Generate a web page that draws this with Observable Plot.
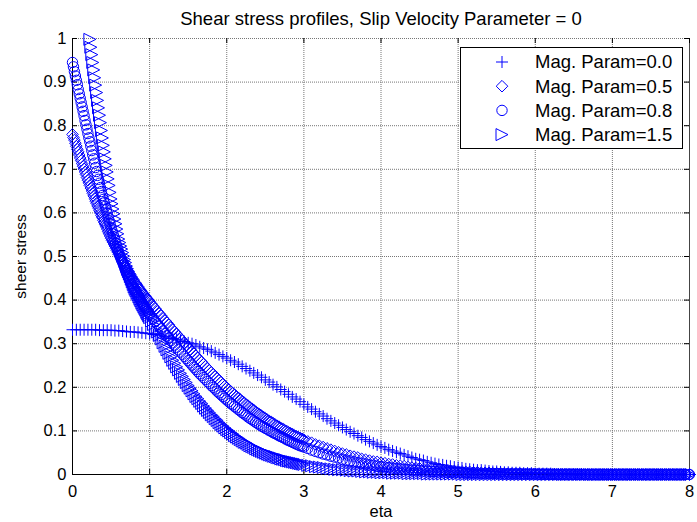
<!DOCTYPE html>
<html><head><meta charset="utf-8">
<script src="https://cdn.jsdelivr.net/npm/d3@7"></script>
<script src="https://cdn.jsdelivr.net/npm/@observablehq/plot@0.6"></script>
<style>
body{margin:0;background:#fff;}
#chart{position:relative;width:697px;height:522px;}
</style>
</head><body><div id="chart"></div>
<script>
const TITLE = "Shear stress profiles, Slip Velocity Parameter = 0";
const X_LABEL = "eta";
const Y_LABEL = "sheer stress";
const X_TICKS = [0,1,2,3,4,5,6,7,8];
const Y_TICKS = [0,0.1,0.2,0.3,0.4,0.5,0.6,0.7,0.8,0.9,1];
const SERIES_NAMES = ["Mag. Param=0.0","Mag. Param=0.5","Mag. Param=0.8","Mag. Param=1.5"];

// eta samples for Mag. Param = 0.0
const ETA_A = [0,0.05,0.1,0.15,0.2,0.25,0.3,0.35,0.4,0.45,0.5,0.55,0.6,0.65,0.7,0.75,0.8,0.85,0.9,0.95,1.0,
1.05,1.1,1.15,1.2,1.25,1.3,1.35,1.4,1.45,1.5,1.55,1.6,1.65,1.7,1.75,1.8,1.85,1.9,1.95,2.0,2.05,2.1,2.15,2.2,2.25,2.3,2.35,2.4,2.45,2.5,2.55,2.6,2.65,2.7,2.75,2.8,2.85,2.9,2.95,3.0,
3.05,3.1,3.15,3.2,3.25,3.3,3.35,3.4,3.45,3.5,3.55,3.6,3.65,3.7,3.75,3.8,3.85,3.9,3.95,4.0,4.05,4.1,4.15,4.2,4.25,4.3,4.35,4.4,4.45,4.5,4.55,4.6,4.65,4.7,4.75,4.8,4.85,4.9,4.95,5.0,
5.05,5.1,5.15,5.2,5.25,5.3,5.35,5.4,5.45,5.5,5.55,5.6,5.65,5.7,5.75,5.8,5.85,5.9,5.95,6.0,6.05,6.1,6.15,6.2,6.25,6.3,6.35,6.4,6.45,6.5,6.55,6.6,6.65,6.7,6.75,6.8,6.85,6.9,6.95,7.0,
7.05,7.1,7.15,7.2,7.25,7.3,7.35,7.4,7.45,7.5,7.55,7.6,7.65,7.7,7.75,7.8,7.85,7.9,7.95,8.0];

const MAG_00 = [0.332,0.332,0.332,0.332,0.332,0.332,0.332,0.331,0.331,0.331,0.331,0.330,0.330,0.329,0.328,0.327,0.327,0.326,0.325,0.324,0.323,
0.321,0.320,0.318,0.317,0.315,0.312,0.310,0.308,0.305,0.302,0.300,0.297,0.293,0.290,0.287,0.283,0.279,0.275,0.271,0.267,0.262,0.258,0.253,0.248,0.243,0.238,0.233,0.228,0.223,0.217,0.212,0.206,0.201,0.195,0.190,0.184,0.178,0.173,0.167,0.161,
0.155,0.150,0.144,0.139,0.134,0.128,0.123,0.118,0.113,0.108,0.103,0.098,0.094,0.089,0.085,0.080,0.076,0.072,0.068,0.064,0.061,0.057,0.054,0.051,0.048,0.045,0.042,0.039,0.036,0.034,0.032,0.029,0.027,0.025,0.023,0.022,0.020,0.019,0.017,0.016,
0.015,0.013,0.012,0.011,0.010,0.010,0.009,0.008,0.007,0.007,0.006,0.005,0.005,0.004,0.004,0.004,0.003,0.003,0.003,0.002,0.002,0.002,0.002,0.002,0.001,0.001,0.001,0.001,0.001,0.001,0.001,0.001,0,0,0,0,0,0,0,0,
0,0,0,0,0,0,0,0,0,0,0,0,0,0,0,0,0,0,0,0];

// eta samples for the other three series
const ETA = [0,0.0125,0.025,0.0375,0.05,0.0625,0.075,0.0875,0.1,0.1125,0.125,0.1375,0.15,0.1625,0.175,0.1875,0.2,0.2125,0.225,0.2375,0.25,0.2625,0.275,0.2875,0.3,0.3125,0.325,0.3375,0.35,0.3625,0.375,0.3875,0.4,0.4125,0.425,0.4375,0.45,0.4625,0.475,0.4875,0.5,
0.5125,0.525,0.5375,0.55,0.5625,0.575,0.5875,0.6,0.6125,0.625,0.6375,0.65,0.6625,0.675,0.6875,0.7,0.7125,0.725,0.7375,0.75,0.7625,0.775,0.7875,0.8,0.8125,0.825,0.8375,0.85,0.8625,0.875,0.8875,0.9,0.9125,0.925,0.9375,0.95,0.9625,0.975,0.9875,1.0,
1.025,1.05,1.075,1.1,1.125,1.15,1.175,1.2,1.225,1.25,1.275,1.3,1.325,1.35,1.375,1.4,1.425,1.45,1.475,1.5,1.525,1.55,1.575,1.6,1.625,1.65,1.675,1.7,1.725,1.75,1.775,1.8,1.825,1.85,1.875,1.9,1.925,1.95,1.975,2.0,
2.025,2.05,2.075,2.1,2.125,2.15,2.175,2.2,2.225,2.25,2.275,2.3,2.325,2.35,2.375,2.4,2.425,2.45,2.475,2.5,2.525,2.55,2.575,2.6,2.625,2.65,2.675,2.7,2.725,2.75,2.775,2.8,2.825,2.85,2.875,2.9,2.925,2.95,2.975,3.0,
3.05,3.1,3.15,3.2,3.25,3.3,3.35,3.4,3.45,3.5,3.55,3.6,3.65,3.7,3.75,3.8,3.85,3.9,3.95,4.0,4.05,4.1,4.15,4.2,4.25,4.3,4.35,4.4,4.45,4.5,4.55,4.6,4.65,4.7,4.75,4.8,4.85,4.9,4.95,5.0,
5.05,5.1,5.15,5.2,5.25,5.3,5.35,5.4,5.45,5.5,5.55,5.6,5.65,5.7,5.75,5.8,5.85,5.9,5.95,6.0,6.05,6.1,6.15,6.2,6.25,6.3,6.35,6.4,6.45,6.5,6.55,6.6,6.65,6.7,6.75,6.8,6.85,6.9,6.95,7.0,
7.05,7.1,7.15,7.2,7.25,7.3,7.35,7.4,7.45,7.5,7.55,7.6,7.65,7.7,7.75,7.8,7.85,7.9,7.95,8.0];

const MAG_05 = [0.780,0.773,0.767,0.760,0.753,0.746,0.740,0.733,0.726,0.720,0.713,0.707,0.701,0.694,0.688,0.681,0.675,0.669,0.663,0.657,0.651,0.645,0.639,0.633,0.627,0.622,0.616,0.611,0.605,0.600,0.594,0.589,0.583,0.578,0.573,0.568,0.563,0.557,0.552,0.547,0.542,
0.537,0.533,0.528,0.524,0.519,0.514,0.510,0.505,0.501,0.497,0.493,0.489,0.484,0.480,0.476,0.472,0.468,0.465,0.461,0.458,0.454,0.450,0.447,0.443,0.440,0.437,0.434,0.431,0.427,0.424,0.421,0.418,0.415,0.413,0.410,0.407,0.404,0.402,0.399,0.396,
0.391,0.385,0.380,0.374,0.369,0.364,0.358,0.353,0.348,0.343,0.337,0.332,0.327,0.322,0.317,0.312,0.307,0.302,0.297,0.292,0.287,0.282,0.277,0.272,0.267,0.262,0.258,0.253,0.248,0.243,0.239,0.234,0.230,0.225,0.221,0.216,0.212,0.207,0.203,0.199,
0.195,0.191,0.187,0.183,0.179,0.176,0.172,0.168,0.165,0.161,0.158,0.154,0.151,0.148,0.144,0.141,0.138,0.135,0.132,0.129,0.126,0.123,0.121,0.118,0.115,0.112,0.110,0.107,0.105,0.102,0.100,0.097,0.095,0.093,0.090,0.088,0.086,0.084,0.082,0.080,
0.076,0.073,0.069,0.066,0.063,0.060,0.057,0.054,0.051,0.048,0.046,0.043,0.041,0.039,0.036,0.034,0.032,0.030,0.029,0.027,0.026,0.024,0.023,0.021,0.020,0.019,0.017,0.016,0.015,0.014,0.013,0.012,0.012,0.011,0.010,0.009,0.009,0.008,0.008,0.007,
0.007,0.006,0.006,0.005,0.005,0.004,0.004,0.004,0.003,0.003,0.003,0.002,0.002,0.002,0.002,0.002,0.001,0.001,0.001,0.001,0.001,0.001,0.001,0.001,0.001,0,0,0,0,0,0,0,0,0,0,0,0,0,0,0,
0,0,0,0,0,0,0,0,0,0,0,0,0,0,0,0,0,0,0,0];

const MAG_08 = [0.945,0.935,0.924,0.914,0.904,0.894,0.883,0.873,0.863,0.853,0.843,0.833,0.823,0.812,0.802,0.792,0.782,0.772,0.763,0.753,0.743,0.733,0.724,0.714,0.704,0.695,0.686,0.677,0.668,0.658,0.649,0.640,0.631,0.623,0.615,0.607,0.599,0.590,0.582,0.574,0.566,
0.559,0.552,0.545,0.538,0.530,0.523,0.516,0.509,0.503,0.497,0.491,0.486,0.480,0.474,0.468,0.462,0.457,0.453,0.448,0.443,0.438,0.434,0.429,0.424,0.420,0.417,0.413,0.409,0.405,0.402,0.398,0.394,0.391,0.388,0.384,0.381,0.378,0.375,0.371,0.368,
0.362,0.357,0.351,0.345,0.340,0.334,0.329,0.323,0.318,0.313,0.307,0.302,0.297,0.292,0.286,0.281,0.276,0.271,0.266,0.261,0.256,0.251,0.246,0.241,0.236,0.231,0.227,0.222,0.218,0.213,0.209,0.204,0.200,0.196,0.191,0.187,0.183,0.179,0.175,0.171,
0.167,0.163,0.160,0.156,0.153,0.149,0.146,0.142,0.139,0.136,0.132,0.129,0.126,0.123,0.120,0.117,0.114,0.111,0.109,0.106,0.104,0.101,0.099,0.096,0.094,0.092,0.089,0.087,0.085,0.083,0.080,0.078,0.076,0.074,0.072,0.070,0.068,0.066,0.065,0.063,
0.060,0.056,0.053,0.050,0.047,0.045,0.042,0.040,0.038,0.035,0.033,0.031,0.029,0.027,0.026,0.024,0.022,0.021,0.019,0.018,0.017,0.016,0.015,0.014,0.013,0.012,0.011,0.010,0.010,0.009,0.008,0.008,0.007,0.007,0.006,0.006,0.005,0.005,0.004,0.004,
0.004,0.003,0.003,0.003,0.003,0.002,0.002,0.002,0.002,0.002,0.001,0.001,0.001,0.001,0.001,0.001,0.001,0.001,0.001,0.001,0,0,0,0,0,0,0,0,0,0,0,0,0,0,0,0,0,0,0,0,
0,0,0,0,0,0,0,0,0,0,0,0,0,0,0,0,0,0,0,0];

const MAG_15 = [null,null,null,null,null,null,null,null,null,null,null,null,null,null,null,null,null,null,0.998,0.980,0.963,0.945,0.928,0.910,0.893,0.876,0.858,0.841,0.824,0.807,0.789,0.772,0.755,0.740,0.724,0.709,0.694,0.678,0.663,0.647,0.632,
0.621,0.609,0.598,0.586,0.575,0.563,0.552,0.540,0.532,0.524,0.517,0.509,0.501,0.493,0.486,0.478,0.472,0.466,0.460,0.454,0.448,0.442,0.436,0.430,0.425,0.421,0.416,0.412,0.407,0.402,0.398,0.393,0.389,0.385,0.381,0.377,0.372,0.368,0.364,0.360,
0.352,0.344,0.335,0.327,0.319,0.311,0.302,0.294,0.286,0.278,0.270,0.262,0.255,0.247,0.240,0.232,0.225,0.218,0.211,0.204,0.198,0.192,0.185,0.179,0.174,0.168,0.163,0.157,0.152,0.147,0.142,0.137,0.133,0.128,0.124,0.119,0.115,0.111,0.107,0.103,
0.100,0.096,0.093,0.089,0.086,0.083,0.080,0.077,0.074,0.072,0.069,0.066,0.064,0.062,0.059,0.057,0.055,0.053,0.051,0.049,0.047,0.045,0.044,0.042,0.041,0.039,0.038,0.036,0.035,0.034,0.032,0.031,0.030,0.029,0.028,0.027,0.026,0.025,0.024,0.023,
0.021,0.020,0.018,0.017,0.016,0.014,0.013,0.012,0.011,0.011,0.010,0.009,0.008,0.008,0.007,0.006,0.006,0.005,0.005,0.004,0.004,0.004,0.003,0.003,0.003,0.003,0.002,0.002,0.002,0.002,0.002,0.001,0.001,0.001,0.001,0.001,0.001,0.001,0.001,0.001,
0,0,0,0,0,0,0,0,0,0,0,0,0,0,0,0,0,0,0,0,0,0,0,0,0,0,0,0,0,0,0,0,0,0,0,0,0,0,0,0,
0,0,0,0,0,0,0,0,0,0,0,0,0,0,0,0,0,0,0,0];

// marker shapes (MATLAB style: +, diamond, circle, right-pointing triangle)
function rad(size){ return Math.sqrt(size / Math.PI); }
const SYM_PLUS = {draw(c, s){ const r = rad(s); c.moveTo(-r,0); c.lineTo(r,0); c.moveTo(0,-r); c.lineTo(0,r); }};
const SYM_DIAMOND = {draw(c, s){ const r = rad(s); c.moveTo(0,-r); c.lineTo(r,0); c.lineTo(0,r); c.lineTo(-r,0); c.closePath(); }};
const SYM_CIRCLE = {draw(c, s){ const r = rad(s); c.moveTo(r,0); c.arc(0,0,r,0,2*Math.PI); c.closePath(); }};
const SYM_TRI = {draw(c, s){ const r = rad(s); c.moveTo(r,0); c.lineTo(-r,-r); c.lineTo(-r,r); c.closePath(); }};

const SERIES = [
  {name: SERIES_NAMES[0], eta: ETA_A, values: MAG_00, symbol: SYM_PLUS, r: 6},
  {name: SERIES_NAMES[1], eta: ETA, values: MAG_05, symbol: SYM_DIAMOND, r: 5.8},
  {name: SERIES_NAMES[2], eta: ETA, values: MAG_08, symbol: SYM_CIRCLE, r: 5.2},
  {name: SERIES_NAMES[3], eta: ETA, values: MAG_15, symbol: SYM_TRI, r: 6}
];
function rows(s){ return s.eta.map((x,i)=>({x, y: s.values[i]})).filter(d => d.y != null); }

const W = 697, H = 522, ML = 72, MR = 8, MT = 38, MB = 48;
const FW = W - ML - MR, FH = H - MT - MB;
const BLUE = "#0000ff";
const FONT = "'Liberation Sans', Arial, Helvetica, sans-serif";
const GRID = {stroke: "#767676", strokeOpacity: 1, strokeDasharray: "1,1", strokeWidth: 1};

const chart = Plot.plot({
  width: W, height: H,
  marginLeft: ML, marginRight: MR, marginTop: MT, marginBottom: MB,
  style: {fontFamily: FONT, background: "#fff", color: "#000", overflow: "visible"},
  x: {domain: [0, 8]},
  y: {domain: [0, 1]},
  marks: [
    Plot.gridX(X_TICKS, GRID),
    Plot.gridY(Y_TICKS, GRID),
    Plot.ruleX([8], {stroke: "#444"}),
    Plot.axisX(X_TICKS, {tickSize: 0, tickPadding: 11, fontSize: 16.5, label: null, tickFormat: d => String(d)}),
    Plot.axisY(Y_TICKS, {tickSize: 0, tickPadding: 6, fontSize: 16.5, label: null, tickFormat: d => String(d)}),
    Plot.tickX(X_TICKS, {x: d => d, insetTop: FH - 5, stroke: "#000"}),
    Plot.tickX(X_TICKS, {x: d => d, insetBottom: FH - 5, stroke: "#000"}),
    Plot.tickY(Y_TICKS, {y: d => d, insetRight: FW - 5, stroke: "#000"}),
    Plot.tickY(Y_TICKS, {y: d => d, insetLeft: FW - 5, stroke: "#000"}),
    Plot.ruleX([0], {stroke: "#000"}),
    Plot.ruleY([0], {stroke: "#000"}),
    ...SERIES.map(s => Plot.dot(rows(s), {x: "x", y: "y", symbol: s.symbol, r: s.r, stroke: BLUE, fill: "none", strokeWidth: 1})),
    Plot.text([TITLE], {frameAnchor: "top", lineAnchor: "middle", dy: -19, fontSize: 18.5, fill: "#000"}),
    Plot.text([X_LABEL], {frameAnchor: "bottom", lineAnchor: "middle", dy: 37, fontSize: 16.5, fill: "#000"}),
    Plot.text([Y_LABEL], {frameAnchor: "left", textAnchor: "middle", lineAnchor: "middle", dx: -51, rotate: -90, fontSize: 15.5, fill: "#000"})
  ]
});
document.getElementById("chart").appendChild(chart);

// legend box (top right inside the axes)
const svg = d3.select(chart);
const lg = svg.append("g").attr("font-family", FONT).attr("text-anchor", "start");
lg.append("rect").attr("x", 460.5).attr("y", 47.5).attr("width", 222).attr("height", 101)
  .attr("fill", "#fff").attr("stroke", "#000").attr("stroke-width", 1);
SERIES.forEach((s, i) => {
  const cy = 62 + i * 24.2;
  lg.append("path").attr("transform", `translate(502,${cy})`)
    .attr("d", d3.symbol(s.symbol, s.r * s.r * Math.PI)())
    .attr("fill", "none").attr("stroke", BLUE).attr("stroke-width", 1);
  lg.append("text").attr("x", 535).attr("y", cy).attr("dy", "0.35em")
    .attr("text-anchor", "start").attr("font-size", 18.5).attr("fill", "#000").text(s.name);
});
</script>
</body></html>
